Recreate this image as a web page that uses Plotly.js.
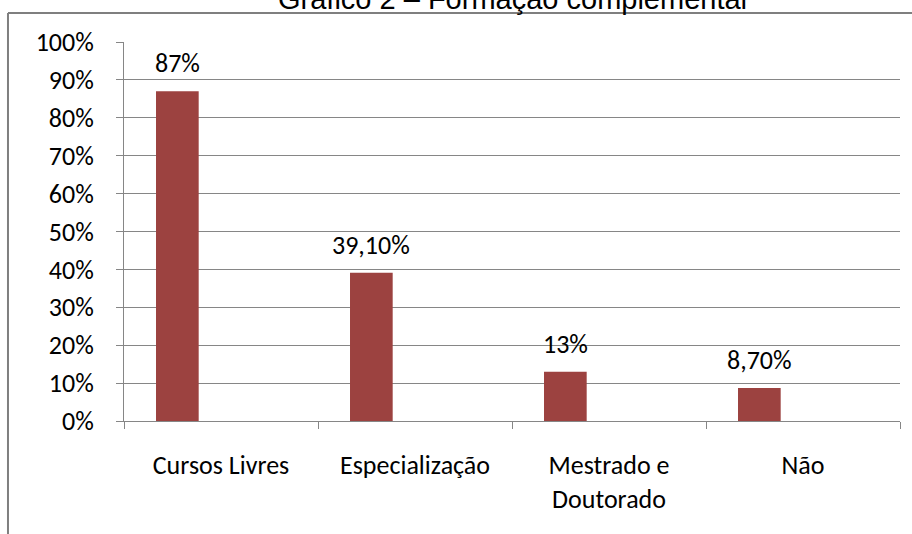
<!DOCTYPE html>
<html>
<head>
<meta charset="utf-8">
<script src="https://cdn.plot.ly/plotly-3.0.1.min.js"></script>
<style>html,body{margin:0;padding:0;background:#fff;}#chart{width:912px;height:534px;}</style>
</head>
<body>
<div id="chart"></div>
<script>
const categories = ["Cursos Livres", "Especialização", "Mestrado e<br>Doutorado", "Não"];
const values = [0.87, 0.391, 0.13, 0.087];
const labels = ["87%", "39,10%", "13%", "8,70%"];
const yTickVals = [0, 0.1, 0.2, 0.3, 0.4, 0.5, 0.6, 0.7, 0.8, 0.9, 1.0];
const yTickText = ["0%", "10%", "20%", "30%", "40%", "50%", "60%", "70%", "80%", "90%", "100%"];
const chartTitle = "Gráfico 2 – Formação complementar";

const FONT = "Carlito, Lato, 'Liberation Sans', sans-serif";
const GRID = "#868686";

const trace = {
  type: "bar",
  x: categories,
  y: values,
  width: 0.22,
  offset: -0.335,
  marker: {color: "#9c4240", line: {width: 0}},
  hoverinfo: "none"
};

const annotations = categories.map((c, i) => ({
  x: c, y: values[i], xref: "x", yref: "y",
  text: labels[i], showarrow: false,
  xanchor: "center", yanchor: "middle",
  xshift: -44, yshift: 28,
  font: {family: FONT, size: 26, color: "#000"}
}));

annotations.push({
  text: chartTitle, showarrow: false,
  xref: "paper", yref: "paper",
  x: 0.503, xanchor: "center", y: 1.114, yanchor: "middle",
  font: {family: "'Liberation Sans', Arial, sans-serif", size: 29, color: "#000"}
});

const layout = {
  width: 912, height: 534,
  margin: {l: 124, r: 12, t: 42, b: 113},
  paper_bgcolor: "#fff", plot_bgcolor: "#fff",
  showlegend: false,
  xaxis: {
    type: "category",
    tickson: "boundaries",
    ticks: "outside", ticklen: 7, tickcolor: GRID, tickwidth: 1,
    showline: true, linecolor: GRID, linewidth: 1,
    showgrid: false,
    ticklabelstandoff: 21,
    tickfont: {family: FONT, size: 26, color: "#000"}
  },
  yaxis: {
    range: [0, 1],
    tickvals: yTickVals, ticktext: yTickText,
    ticks: "outside", ticklen: 7, tickcolor: GRID, tickwidth: 1,
    showline: true, linecolor: GRID, linewidth: 1,
    showgrid: true, gridcolor: GRID, gridwidth: 1,
    zeroline: false,
    ticklabelstandoff: 17,
    tickfont: {family: FONT, size: 26, color: "#000"}
  },
  annotations: annotations,
  shapes: [
    {type: "line", xref: "paper", yref: "paper", layer: "above",
     x0: -0.1495, x1: 1.03, y0: 1.0765, y1: 1.0765,
     line: {color: "#7f7f7f", width: 2}},
    {type: "line", xref: "paper", yref: "paper", layer: "above",
     x0: -0.1495, x1: -0.1495, y0: 1.0765, y1: -0.4,
     line: {color: "#7f7f7f", width: 2}}
  ]
};

Plotly.newPlot("chart", [trace], layout, {displayModeBar: false, staticPlot: true});
</script>
</body>
</html>
